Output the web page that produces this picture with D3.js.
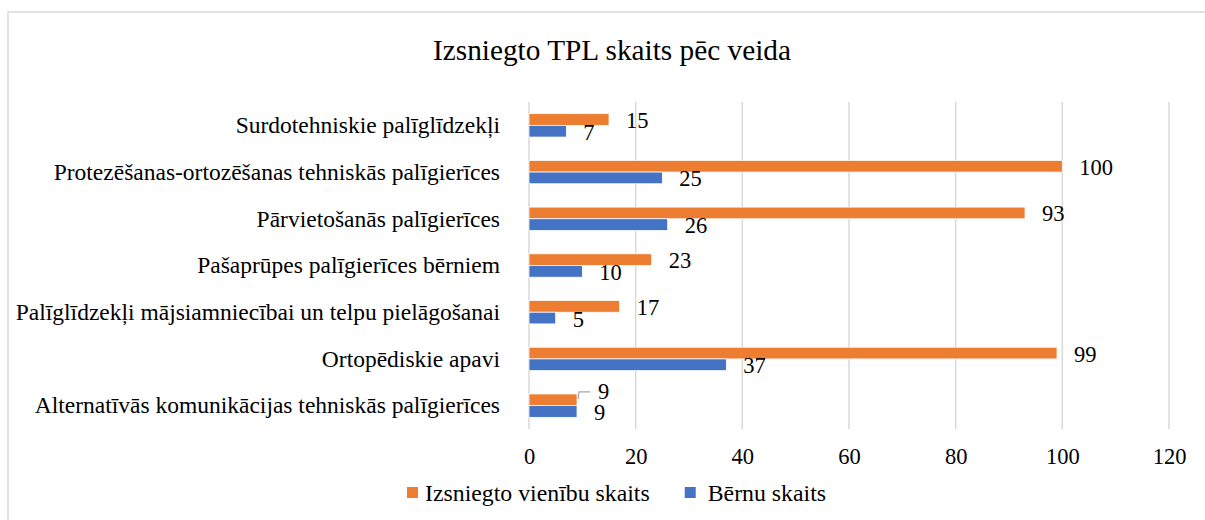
<!DOCTYPE html>
<html>
<head>
<meta charset="utf-8">
<script src="https://cdn.jsdelivr.net/npm/d3@7"></script>
<style>
  body { margin: 0; background: #fff; }
  text { font-family: "Liberation Serif", "Times New Roman", serif; fill: #000; }
</style>
</head>
<body>
<div id="chart"></div>
<script>
// data
const categories = [
	"Surdotehniskie palīglīdzekļi",
	"Protezēšanas-ortozēšanas tehniskās palīgierīces",
	"Pārvietošanās palīgierīces",
	"Pašaprūpes palīgierīces bērniem",
	"Palīglīdzekļi mājsiamniecībai un telpu pielāgošanai",
	"Ortopēdiskie apavi",
	"Alternatīvās komunikācijas tehniskās palīgierīces"
];
const seriesNames = ["Izsniegto vienību skaits", "Bērnu skaits"];
const unitsIssued = [15, 100, 93, 23, 17, 99, 9];
const childrenCount = [7, 25, 26, 10, 5, 37, 9];
const xTicks = [0, 20, 40, 60, 80, 100, 120];
const titleText = "Izsniegto TPL skaits pēc veida";

const colors = ["#ED7D31", "#4472C4"];
const width = 1205;
const height = 520;
const plot = { left: 529, right: 1169, top: 102, bottom: 429 };

const svg = d3.select("#chart")
	.append("svg")
	.attr("width", width)
	.attr("height", height);

// outer border
svg.append("rect")
	.attr("x", 8)
	.attr("y", 12)
	.attr("width", 1210)
	.attr("height", 530)
	.attr("fill", "none")
	.attr("stroke", "#d9d9d9")
	.attr("stroke-width", 1.5);

svg.append("text")
	.attr("x", 612)
	.attr("y", 60)
	.attr("text-anchor", "middle")
	.style("font-size", "29.3px")
	.text(titleText);

/*
Scales
*/
const x = d3.scaleLinear()
	.domain([0, 120])
	.range([plot.left, plot.right]);
const y = d3.scaleBand()
	.domain(categories)
	.range([plot.top, plot.bottom])
	.paddingInner(0.5)
	.paddingOuter(0.25);
const ySub = d3.scaleBand()
	.domain([0, 1])
	.range([0, y.bandwidth()]);

// gridlines
svg.append("g")
	.selectAll("line")
	.data(xTicks)
	.enter()
	.append("line")
	.attr("x1", (d) => x(d))
	.attr("x2", (d) => x(d))
	.attr("y1", plot.top)
	.attr("y2", plot.bottom)
	.attr("stroke", "#d9d9d9")
	.attr("stroke-width", 1.5);

// x axis labels
const xAxis = d3.axisBottom(x)
	.tickValues(xTicks)
	.tickSize(0)
	.tickPadding(0);
const xAxisG = svg.append("g")
	.attr("transform", `translate(0, ${plot.bottom})`)
	.call(xAxis);
xAxisG.select(".domain").remove();
xAxisG.selectAll("text")
	.attr("y", 35)
	.attr("dy", null)
	.style("font-size", "22.5px")
	.style("font-family", "Liberation Serif, serif");

// category labels
const yAxis = d3.axisLeft(y)
	.tickSize(0)
	.tickPadding(29);
const yAxisG = svg.append("g")
	.attr("transform", `translate(${plot.left}, 0)`)
	.call(yAxis);
yAxisG.select(".domain").remove();
yAxisG.selectAll("text")
	.attr("dy", null)
	.attr("y", 7.8)
	.style("font-size", "23.5px")
	.style("font-family", "Liberation Serif, serif");

/*
Bars
*/
const rows = categories.map((c, i) => ({
	cat: c,
	vals: [unitsIssued[i], childrenCount[i]]
}));
const barData = [];
rows.forEach((r) => {
	r.vals.forEach((v, s) => barData.push({ cat: r.cat, s: s, v: v }));
});

svg.append("g")
	.selectAll("rect")
	.data(barData)
	.enter()
	.append("rect")
	.attr("x", x(0))
	.attr("y", (d) => y(d.cat) + ySub(d.s))
	.attr("width", (d) => x(d.v) - x(0))
	.attr("height", ySub.bandwidth())
	.attr("fill", (d) => colors[d.s])
	.attr("stroke", "#fff")
	.attr("stroke-width", 0.75);

// data labels (one label was nudged by hand in the original)
const nudge = (d) => (d.cat === categories[6] && d.s === 0) ? { dx: 4, dy: -9 } : { dx: 0, dy: 0 };
svg.append("g")
	.selectAll("text")
	.data(barData)
	.enter()
	.append("text")
	.attr("x", (d) => x(d.v) + 17 + nudge(d).dx)
	.attr("y", (d) => y(d.cat) + ySub(d.s) + ySub.bandwidth() / 2 + 8.5 + nudge(d).dy)
	.style("font-size", "22.5px")
	.text((d) => d.v);

// leader line for the moved label
const moved = barData.find((d) => d.cat === categories[6] && d.s === 0);
const my = y(moved.cat) + ySub(moved.s);
svg.append("path")
	.attr("d", `M${x(moved.v) + 1},${my + 5} L${x(moved.v) + 2},${my - 2} L${x(moved.v) + 13},${my - 2}`)
	.attr("fill", "none")
	.attr("stroke", "#a6a6a6")
	.attr("stroke-width", 1.25);

/*
Legend
*/
const legend = svg.append("g")
	.attr("transform", "translate(407, 487)");
let lx = 0;
seriesNames.forEach((name, i) => {
	const item = legend.append("g").attr("transform", `translate(${lx}, 0)`);
	item.append("rect")
		.attr("width", 11)
		.attr("height", 11)
		.attr("fill", colors[i]);
	const t = item.append("text")
		.attr("x", i === 0 ? 18 : 23)
		.attr("y", 14)
		.style("font-size", "23.8px")
		.text(name);
	lx += 18 + t.node().getComputedTextLength() + 35;
});
</script>
</body>
</html>
